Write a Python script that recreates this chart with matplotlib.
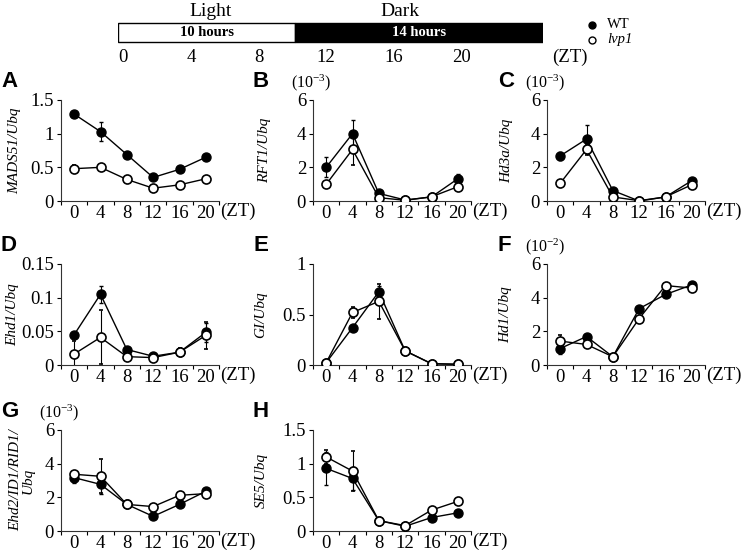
import numpy as np
import matplotlib
matplotlib.use('Agg')
import matplotlib.pyplot as plt
from matplotlib.patches import Rectangle

plt.rcParams['font.family'] = ['Liberation Serif', 'DejaVu Serif']
plt.rcParams['mathtext.fontset'] = 'custom'
plt.rcParams['mathtext.rm'] = 'Liberation Serif'
plt.rcParams['mathtext.it'] = 'Liberation Serif:italic'

# sampling times (ZT)
zt = [0, 4, 8, 12, 16, 20]
zt_labels = [str(t) for t in zt]

# header
light_hours = 10
dark_hours = 14

# expression values (mean, error)
mads51_wt = [1.29, 1.03, 0.69, 0.35, 0.47, 0.65]
mads51_wt_err = [0.03, 0.14, 0.03, 0.03, 0.03, 0.03]
mads51_lvp = [0.48, 0.50, 0.32, 0.19, 0.24, 0.33]
mads51_lvp_err = [0.05, 0.02, 0.02, 0.02, 0.02, 0.02]

rft1_wt = [2.0, 4.0, 0.45, 0.06, 0.24, 1.32]
rft1_wt_err = [0.6, 0.8, 0.05, 0.02, 0.03, 0.3]
rft1_lvp = [0.99, 3.06, 0.2, 0.04, 0.25, 0.85]
rft1_lvp_err = [0.1, 0.95, 0.05, 0.02, 0.03, 0.15]

hd3a_wt = [2.68, 3.68, 0.62, 0.0, 0.24, 1.21]
hd3a_wt_err = [0.25, 0.85, 0.05, 0.01, 0.03, 0.1]
hd3a_lvp = [1.05, 3.06, 0.24, 0.02, 0.24, 0.97]
hd3a_lvp_err = [0.05, 0.3, 0.05, 0.01, 0.03, 0.08]

ehd1_wt = [0.045, 0.105, 0.023, 0.013, 0.019, 0.0485]
ehd1_wt_err = [0.002, 0.013, 0.003, 0.002, 0.003, 0.014]
ehd1_lvp = [0.0163, 0.041, 0.0124, 0.011, 0.019, 0.044]
ehd1_lvp_err = [0.02, 0.04, 0.002, 0.002, 0.006, 0.02]

gi_wt = [0.023, 0.37, 0.725, 0.14, 0.013, 0.007]
gi_wt_err = [0.01, 0.03, 0.06, 0.01, 0.005, 0.003]
gi_lvp = [0.023, 0.52, 0.63, 0.14, 0.013, 0.007]
gi_lvp_err = [0.01, 0.05, 0.17, 0.01, 0.005, 0.003]

hd1_wt = [0.98, 1.69, 0.49, 3.35, 4.19, 4.76]
hd1_wt_err = [0.3, 0.1, 0.05, 0.1, 0.1, 0.1]
hd1_lvp = [1.42, 1.22, 0.49, 2.76, 4.72, 4.57]
hd1_lvp_err = [0.35, 0.1, 0.05, 0.1, 0.1, 0.1]

ehd2_wt = [3.17, 2.77, 1.58, 0.87, 1.58, 2.36]
ehd2_wt_err = [0.3, 0.55, 0.05, 0.05, 0.1, 0.1]
ehd2_lvp = [3.37, 3.25, 1.58, 1.45, 2.12, 2.22]
ehd2_lvp_err = [0.1, 1.0, 0.05, 0.05, 0.1, 0.1]

se5_wt = [0.93, 0.78, 0.154, 0.07, 0.2, 0.27]
se5_wt_err = [0.25, 0.17, 0.02, 0.01, 0.02, 0.02]
se5_lvp = [1.10, 0.89, 0.154, 0.08, 0.31, 0.44]
se5_lvp_err = [0.1, 0.3, 0.02, 0.01, 0.02, 0.02]

W, H = 744, 560
fig = plt.figure(figsize=(W / 100, H / 100), dpi=100)


def box(x0, y0, w, h):
    return [x0 / W, 1 - (y0 + h) / H, w / W, h / H]


panels = [
    # letter, left, top, ylabel, label x, letter x, yticks, ticklabels, exponent, data
    ('A', 61, 100, 'MADS51/Ubq', 15, 10, [0, 0.5, 1, 1.5], ['0', '0.5', '1', '1.5'], None,
     mads51_wt, mads51_wt_err, mads51_lvp, mads51_lvp_err),
    ('B', 313, 100, 'RFT1/Ubq', 265, 261, [0, 2, 4, 6], ['0', '2', '4', '6'], '-3',
     rft1_wt, rft1_wt_err, rft1_lvp, rft1_lvp_err),
    ('C', 547, 100, 'Hd3a/Ubq', 507, 506, [0, 2, 4, 6], ['0', '2', '4', '6'], '-3',
     hd3a_wt, hd3a_wt_err, hd3a_lvp, hd3a_lvp_err),
    ('D', 61, 264, 'Ehd1/Ubq', 13, 9, [0, 0.05, 0.1, 0.15], ['0', '0.05', '0.1', '0.15'], None,
     ehd1_wt, ehd1_wt_err, ehd1_lvp, ehd1_lvp_err),
    ('E', 313, 264, 'GI/Ubq', 261, 261, [0, 0.5, 1], ['0', '0.5', '1'], None,
     gi_wt, gi_wt_err, gi_lvp, gi_lvp_err),
    ('F', 547, 264, 'Hd1/Ubq', 506, 504, [0, 2, 4, 6], ['0', '2', '4', '6'], '-2',
     hd1_wt, hd1_wt_err, hd1_lvp, hd1_lvp_err),
    ('G', 61, 430, 'Ehd2/ID1/RID1/\nUbq', 22, 10, [0, 2, 4, 6], ['0', '2', '4', '6'], '-3',
     ehd2_wt, ehd2_wt_err, ehd2_lvp, ehd2_lvp_err),
    ('H', 313, 430, 'SE5/Ubq', 261, 261, [0, 0.5, 1, 1.5], ['0', '0.5', '1', '1.5'], None,
     se5_wt, se5_wt_err, se5_lvp, se5_lvp_err),
]

aw, ah = 158, 101
for (letter, x0, y0, ylab, lab_x, let_x, yt, ytl, expo, wt, wte, lv, lve) in panels:
    ax = fig.add_axes(box(x0, y0, aw, ah))
    ax.errorbar(zt_labels, wt, yerr=wte, color='black', lw=1.0, marker='o', ms=6.5,
                mfc='black', mec='black', mew=1.0, ecolor='black', elinewidth=0.8,
                capsize=1.5, capthick=0.8, zorder=3)
    ax.errorbar(zt_labels, lv, yerr=lve, color='black', lw=1.0, marker='o', ms=6.5,
                mfc='white', mec='black', mew=1.2, ecolor='black', elinewidth=0.8,
                capsize=1.5, capthick=0.8, zorder=4)
    ax.set_xlim(-0.5, 5.5)
    ax.set_ylim(yt[0], yt[-1])
    ax.set_yticks(yt)
    ax.set_yticklabels(ytl)
    ax.set_xticks(np.arange(-0.5, 6, 1), minor=True)
    ax.tick_params(axis='x', which='major', length=0, pad=3, labelsize=13.5)
    ax.tick_params(axis='x', which='minor', length=3, width=0.8, direction='out')
    ax.tick_params(axis='y', length=3, width=0.8, direction='out', pad=2, labelsize=13.5)
    for s in ['top', 'right']:
        ax.spines[s].set_visible(False)
    for s in ['left', 'bottom']:
        ax.spines[s].set_linewidth(0.8)
        ax.spines[s].set_color('#333333')
    ax.text(1.01, -0.02, '(ZT)', transform=ax.transAxes, ha='left', va='top', fontsize=13.5)
    ax.text((lab_x - x0) / aw, 0.5, ylab, transform=ax.transAxes, rotation=90, ha='center',
            va='center', fontsize=11, style='italic', linespacing=1.0)
    ax.text((let_x - x0) / aw, 1.18, letter, transform=ax.transAxes, ha='center',
            va='center', fontsize=16, fontweight='bold', family='Liberation Sans')
    if expo is not None:
        ax.text(-0.01, 1.07, '(10$^{\\mathrm{' + expo + '}}$)',
                transform=ax.transAxes, ha='center', va='bottom', fontsize=11.5)

# header timeline
hx0, hx1 = 118, 543
hax = fig.add_axes(box(hx0, 0, hx1 - hx0, 70))
hax.set_xlim(0, light_hours + dark_hours)
hax.set_ylim(70, 0)
hax.axis('off')
hax.add_patch(Rectangle((0, 23), light_hours, 19, facecolor='white', edgecolor='black', lw=1.0))
hax.add_patch(Rectangle((light_hours, 23), dark_hours, 19, facecolor='black', edgecolor='black', lw=1.0))
hax.text(light_hours / 2, 33, '%d hours' % light_hours, ha='center', va='center',
         fontsize=10.5, fontweight='bold')
hax.text(light_hours + dark_hours / 2, 33, '%d hours' % dark_hours, ha='center', va='center',
         fontsize=10.5, fontweight='bold', color='white')
hax.text(5.2, 11, 'Light', ha='center', va='center', fontsize=14)
hax.text(15.9, 11, 'Dark', ha='center', va='center', fontsize=14)
for t in zt:
    hax.text(0.3 + 0.955 * t, 57, str(t), ha='center', va='center', fontsize=13.5)
hax.text(24.5, 57, '(ZT)', ha='left', va='center', fontsize=13.5, clip_on=False)

# legend
fig.text(607 / W, 1 - 25 / H, 'WT', ha='left', va='center', fontsize=10.5)
fig.text(607 / W, 1 - 40 / H, 'lvp1', ha='left', va='center', fontsize=10.5, style='italic')
lax = fig.add_axes([0, 0, 1, 1], zorder=-1)
lax.set_xlim(0, W)
lax.set_ylim(H, 0)
lax.axis('off')
lax.plot([592], [25], 'o', ms=5, mfc='black', mec='black')
lax.plot([592], [40], 'o', ms=5, mfc='white', mec='black', mew=1.0)

fig.savefig('out.png', dpi=100)
